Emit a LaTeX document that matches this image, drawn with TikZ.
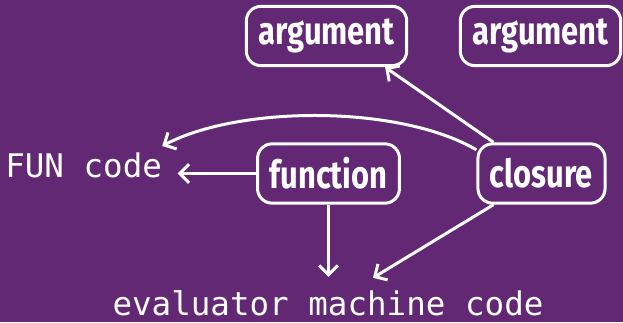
\documentclass[tikz,border=0pt]{standalone}
\usepackage{fontspec}
\newfontfamily\boxfont[FakeStretch=0.8]{Fira Sans}
\setmonofont{DejaVu Sans Mono}
\usepackage{tikz}
\usetikzlibrary{arrows.meta}
\definecolor{bgpurple}{RGB}{98,40,116}

\begin{document}
\begin{tikzpicture}[x=0.75pt, y=-0.75pt,
		box/.style={draw=white, text=white, line width=2.25pt, rounded corners=11pt,
			minimum height=44.5pt, inner xsep=9pt,
			font=\boxfont\bfseries\fontsize{29}{30}\selectfont},
		code/.style={text=white, inner sep=0pt, font=\ttfamily\fontsize{24.4}{26}\selectfont},
		link/.style={draw=white, line width=2.25pt, -{Straight Barb[length=7pt,width=14pt]}}]
			% background
			\fill[bgpurple] (0, 0) rectangle (623, 322);
			% boxes
			\node[box] (arg1) at (326.5, 36) {argument};
			\node[box] (arg2) at (540.5, 36) {argument};
			\node[box] (function) at (328.5, 173.5) {function};
			\node[box] (closure) at (541.5, 173.5) {closure};
			% code
			\node[code, anchor=base west] (fun) at (5, 177) {FUN code};
			\node[code, anchor=base] (evm) at (328, 315) {evaluator machine code};
			\coordinate (fun in) at ([yshift=4.5pt]fun.north east);
			\coordinate (evm in) at ([xshift=33.75pt, yshift=9pt]evm.north);
			% arrows
			\draw[link] (closure.147) -- (arg1.-28);
			\draw[link] (closure.160) .. controls (400, 105) and (240, 105) .. (fun in);
			\draw[link, shorten >=11.5pt] (function.west) -- (function.west -| fun.east);
			\draw[link, shorten >=9.75pt] (function.south) -- (function.south |- evm.north);
			\draw[link] (closure.213) -- (evm in);
\end{tikzpicture}
\end{document}
